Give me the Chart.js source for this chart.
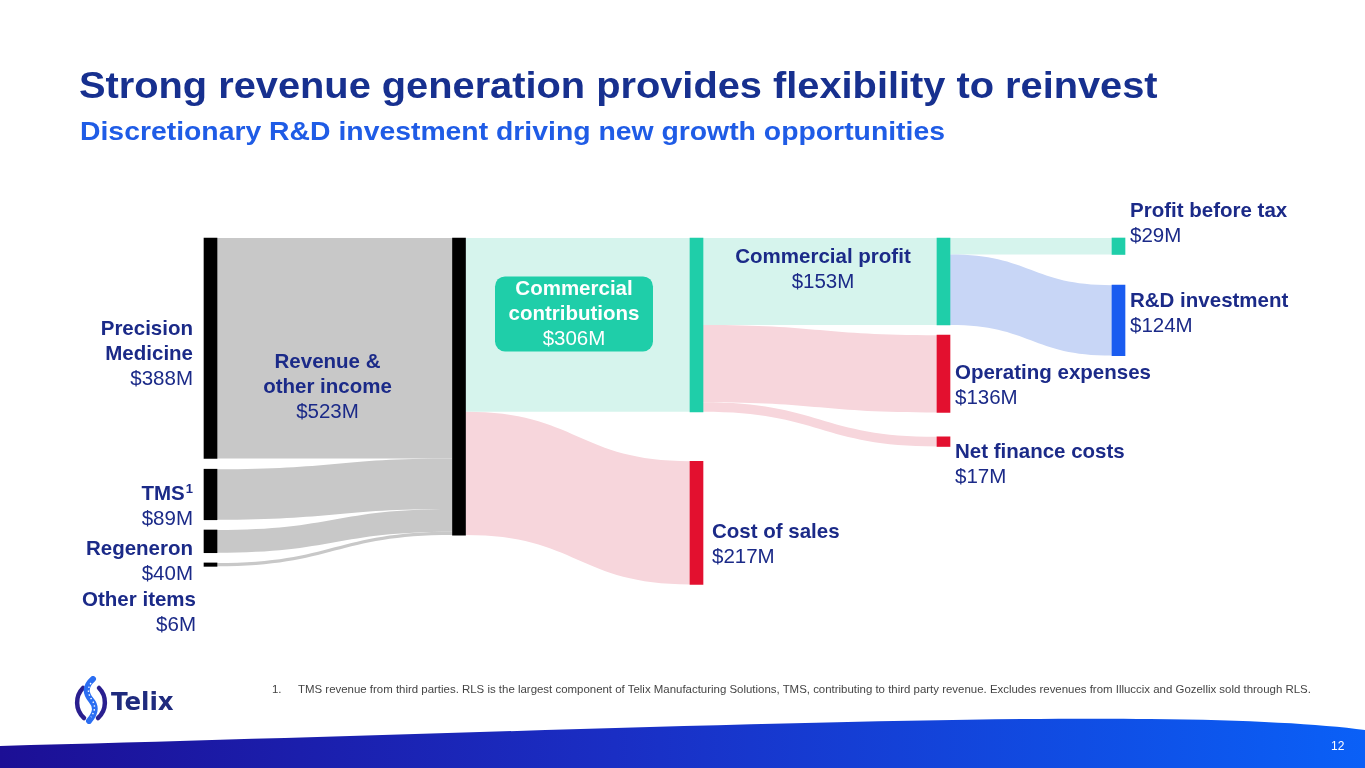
<!DOCTYPE html>
<html>
<head>
<meta charset="utf-8">
<script src="https://cdn.jsdelivr.net/npm/chart.js@4.4.1/dist/chart.umd.min.js"></script>
<style>
  html, body { margin: 0; padding: 0; background: #fff; }
  body { width: 1365px; height: 768px; position: relative; overflow: hidden; font-family: "Liberation Sans", Arial, sans-serif; }
  #chart { position: absolute; left: 0; top: 0; }
  h1 { position: absolute; left: 79px; top: 67px; margin: 0; font-size: 37px; line-height: 37px; font-weight: bold; color: #17308f; white-space: nowrap; transform: scaleX(1.075); transform-origin: 0 0; }
  h2 { position: absolute; left: 80px; top: 119px; margin: 0; font-size: 25.5px; line-height: 25.5px; font-weight: bold; color: #1f5ce6; white-space: nowrap; transform: scaleX(1.112); transform-origin: 0 0; }
  .note { position: absolute; left: 272px; top: 683px; font-size: 11.45px; color: #444; white-space: nowrap; }
  .note span { display: inline-block; width: 26px; }
  .band { position: absolute; left: 0; top: 700px; }
  .page { position: absolute; left: 1331px; top: 739px; font-size: 12px; color: #fff; }
  .logo { position: absolute; left: 74px; top: 676px; }
</style>
</head>
<body>
<canvas id="chart" width="1365" height="768"></canvas>
<h1>Strong revenue generation provides flexibility to reinvest</h1>
<h2>Discretionary R&amp;D investment driving new growth opportunities</h2>
<div class="note"><span>1.</span>TMS revenue from third parties. RLS is the largest component of Telix Manufacturing Solutions, TMS, contributing to third party revenue. Excludes revenues from Illuccix and Gozellix sold through RLS.</div>

<svg class="logo" width="112" height="48" viewBox="0 0 112 48">
  <path d="M9 12 C1 20 1 34 10 42" fill="none" stroke="#2a1f8f" stroke-width="4.5" stroke-linecap="round"/>
  <path d="M25 12 C33 20 33 34 24 42" fill="none" stroke="#2a1f8f" stroke-width="4.5" stroke-linecap="round"/>
  <path d="M19 3 C10 11 12 18 17 24 C23 31 22 37 15 45" fill="none" stroke="#2b6ef2" stroke-width="6" stroke-linecap="round"/>
  <path d="M17 7 C13 13 14 18 18 24 C22 30 21 35 17 41" fill="none" stroke="#fff" stroke-width="1.4" stroke-dasharray="1.4 2.6"/>
  <text x="37" y="34" font-family="DejaVu Sans, sans-serif" font-size="24.5" font-weight="bold" fill="#1f2b7e">Telix</text>
</svg>

<svg class="band" width="1365" height="68" viewBox="0 700 1365 68">
  <defs>
    <linearGradient id="bandFill" x1="0" y1="0" x2="1" y2="0">
      <stop offset="0" stop-color="#1c0f95"/>
      <stop offset="0.45" stop-color="#1a2ec4"/>
      <stop offset="1" stop-color="#0a60f7"/>
    </linearGradient>
  </defs>
  <path d="M0 746 C400 736 900 716 1150 719 C1250 720 1320 724 1365 730 L1365 768 L0 768 Z" fill="url(#bandFill)"/>
</svg>
<div class="page">12</div>

<script>
// values ($M)
const nodeNames = [
  'Precision\nMedicine', 'TMS', 'Regeneron', 'Other items',
  'Revenue &\nother income',
  'Commercial\ncontributions', 'Cost of sales',
  'Commercial profit', 'Operating expenses', 'Net finance costs',
  'Profit before tax', 'R&D investment'
]
const linkSource = [0, 1, 2, 3, 4, 4, 5, 5, 5, 7, 7]
const linkTarget = [4, 4, 4, 4, 5, 6, 7, 8, 9, 10, 11]
const linkValues = [388, 89, 40, 6, 306, 217, 153, 136, 17, 29, 124]

// layout / style
const nodeColumn = [0, 0, 0, 0, 1, 2, 2, 3, 3, 3, 4, 4]
const columnX = [210.5, 459, 696.5, 943.5, 1118.5]
const nodeGap = [0, 19, 18, 18, 0, 0, 87, 0, 18, 43, 0, 54]

const BLACK = '#000000', TEAL = '#1fcea9', RED = '#e3102f', BLUE = '#1a5cf0'
const nodeColors = [BLACK, BLACK, BLACK, BLACK, BLACK, TEAL, RED, TEAL, RED, RED, TEAL, BLUE]

const GREY = '#c8c8c8', TEAL_L = '#d6f4ed', PINK_L = '#f7d6dc', BLUE_L = '#c8d6f6'
const linkColors = [GREY, GREY, GREY, GREY, TEAL_L, PINK_L, TEAL_L, PINK_L, PINK_L, TEAL_L, BLUE_L]

// label placement relative to node centre: dx, dy = first baseline
const labelSpec = [
  { align: 'right', dx: -17.5, dy: -13 },
  { align: 'right', dx: -17.5, dy: 6, sup: '1' },
  { align: 'right', dx: -17.5, dy: 14 },
  { align: 'right', dx: -14.5, dy: 41.5 },
  { align: 'center', dx: -131.5, dy: -18.5 },
  { align: 'box', dx: -122.5, dy: -11 },
  { align: 'left', dx: 15.5, dy: 15 },
  { align: 'center', dx: -120.5, dy: -18.5 },
  { align: 'left', dx: 11.5, dy: 5 },
  { align: 'left', dx: 11.5, dy: 16.5 },
  { align: 'left', dx: 11.5, dy: -29 },
  { align: 'left', dx: 11.5, dy: -13.5 }
]

const NODE_W = 13
const LINE_H = 25
const FONT = '"Liberation Sans", Arial, sans-serif'
const TEXT_COLOR = '#1b2a88'

// node sizes from the flows
const nodeValue = nodeNames.map((_, i) => {
  let inSum = 0, outSum = 0
  linkValues.forEach((v, k) => {
    if (linkTarget[k] === i) inSum += v
    if (linkSource[k] === i) outSum += v
  })
  return Math.max(inSum, outSum)
})

const nodeTop = []
const colBottom = {}
nodeNames.forEach((_, i) => {
  const c = nodeColumn[i]
  const start = (colBottom[c] || 0) + nodeGap[i]
  nodeTop[i] = start
  colBottom[c] = start + nodeValue[i]
})

const nodeData = nodeNames.map((_, i) => ({
  x: columnX[nodeColumn[i]],
  y: [nodeTop[i], nodeTop[i] + nodeValue[i]]
}))

function drawLink(ctx, x0, y0a, y0b, x1, y1a, y1b, color) {
  const xm = (x0 + x1) / 2
  ctx.beginPath()
  ctx.moveTo(x0, y0a)
  ctx.bezierCurveTo(xm, y0a, xm, y1a, x1, y1a)
  ctx.lineTo(x1, y1b)
  ctx.bezierCurveTo(xm, y1b, xm, y0b, x0, y0b)
  ctx.closePath()
  ctx.fillStyle = color
  ctx.fill()
}

const sankeyLinks = {
  id: 'sankeyLinks',
  beforeDatasetsDraw(chart) {
    const ctx = chart.ctx
    const xs = chart.scales.x, ys = chart.scales.y
    const outUsed = nodeNames.map(() => 0)
    const inUsed = nodeNames.map(() => 0)
    ctx.save()
    linkValues.forEach((v, k) => {
      const s = linkSource[k], t = linkTarget[k]
      const x0 = xs.getPixelForValue(columnX[nodeColumn[s]]) + NODE_W / 2
      const x1 = xs.getPixelForValue(columnX[nodeColumn[t]]) - NODE_W / 2
      const s0 = nodeTop[s] + outUsed[s]
      const t0 = nodeTop[t] + inUsed[t]
      outUsed[s] += v
      inUsed[t] += v
      drawLink(ctx, x0, ys.getPixelForValue(s0), ys.getPixelForValue(s0 + v),
        x1, ys.getPixelForValue(t0), ys.getPixelForValue(t0 + v), linkColors[k])
    })
    ctx.restore()
  }
}

const sankeyLabels = {
  id: 'sankeyLabels',
  afterDatasetsDraw(chart) {
    const ctx = chart.ctx
    const xs = chart.scales.x, ys = chart.scales.y
    ctx.save()
    ctx.textBaseline = 'alphabetic'
    nodeNames.forEach((name, i) => {
      const spec = labelSpec[i]
      const cx = xs.getPixelForValue(columnX[nodeColumn[i]])
      const cy = ys.getPixelForValue(nodeTop[i] + nodeValue[i] / 2)
      const lines = name.split('\n')
      const amount = '$' + nodeValue[i] + 'M'
      let x = cx + spec.dx
      let y = cy + spec.dy
      let color = TEXT_COLOR
      let align = spec.align

      if (spec.align === 'box') {
        const bw = 158, bh = 75
        ctx.fillStyle = TEAL
        ctx.beginPath()
        ctx.roundRect(x - bw / 2, y - bh / 2, bw, bh, 10)
        ctx.fill()
        y = y - 19
        color = '#ffffff'
        align = 'center'
      }
      ctx.fillStyle = color
      ctx.textAlign = align
      lines.forEach((line, j) => {
        ctx.font = 'bold 20.5px ' + FONT
        if (spec.sup) {
          ctx.font = 'bold 13px ' + FONT
          const w = ctx.measureText(spec.sup).width
          ctx.fillText(spec.sup, x, y - 7)
          ctx.font = 'bold 20.5px ' + FONT
          ctx.fillText(line, x - w - 1, y)
        } else {
          ctx.fillText(line, x, y)
        }
        y += LINE_H
      })
      ctx.font = '20.5px ' + FONT
      ctx.fillText(amount, x, y)
    })
    ctx.restore()
  }
}

const ctx = document.getElementById('chart')

var sankeyChart = new Chart(ctx, {
  type: 'bar',
  data: {
    datasets: [{
      data: nodeData,
      backgroundColor: nodeColors,
      barThickness: NODE_W,
      borderWidth: 0,
      borderSkipped: false
    }]
  },
  options: {
    responsive: false,
    animation: false,
    layout: { padding: 0 },
    plugins: {
      legend: { display: false },
      tooltip: { enabled: false }
    },
    scales: {
      x: { type: 'linear', min: 0, max: 1365, offset: false, display: false },
      y: { min: -419, max: 933, reverse: true, display: false }
    }
  },
  plugins: [sankeyLinks, sankeyLabels]
})
</script>
</body>
</html>
